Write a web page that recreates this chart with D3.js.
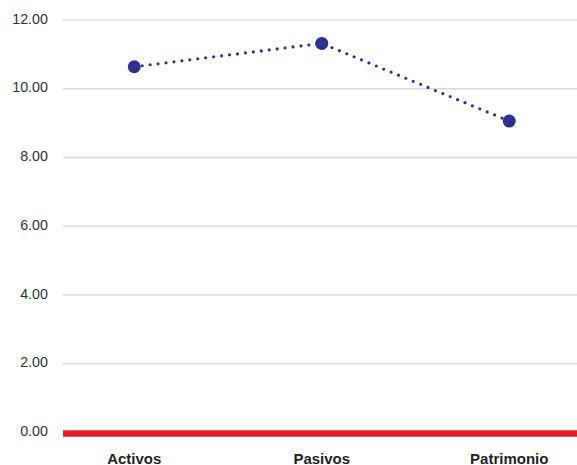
<!DOCTYPE html>
<html><head><meta charset="utf-8">
<script src="https://cdn.jsdelivr.net/npm/d3@7"></script>
<style>body{margin:0;background:#fff}svg{display:block}</style>
</head><body>
<svg id="c" width="577" height="465"></svg>
<script>
const categories = ["Activos", "Pasivos", "Patrimonio"];
const values = [10.64, 11.32, 9.06];
const yTicks = [0, 2, 4, 6, 8, 10, 12];

const svg = d3.select("#c");
const gridLeft = 63, gridRight = 577;
const x = d3.scaleBand().domain(categories).range([40.5, 603]);
const y = d3.scaleLinear().domain([0, 12]).range([432.5, 20]);

// gridlines
svg.append("g").selectAll("line").data(yTicks.filter(d => d > 0)).join("line")
  .attr("x1", gridLeft).attr("x2", gridRight)
  .attr("y1", d => y(d)).attr("y2", d => y(d))
  .attr("stroke", "#d9d9d9").attr("stroke-width", 1.5);

// y tick labels
svg.append("g").selectAll("text").data(yTicks).join("text")
  .attr("x", 48).attr("y", d => y(d) - 1.5).attr("dy", "0.35em")
  .attr("text-anchor", "end")
  .attr("font-family", "Liberation Sans, Arial, sans-serif").attr("font-size", 14.3)
  .attr("fill", "#333").text(d => d.toFixed(2));

// zero line
svg.append("line").attr("x1", gridLeft).attr("x2", gridRight)
  .attr("y1", y(0) + 1).attr("y2", y(0) + 1)
  .attr("stroke", "#e31e26").attr("stroke-width", 6.5);

// category labels
svg.append("g").selectAll("text").data(categories).join("text")
  .attr("x", d => x(d) + x.bandwidth() / 2).attr("y", 463.5)
  .attr("text-anchor", "middle")
  .attr("font-family", "Liberation Sans, Arial, sans-serif").attr("font-size", 15)
  .attr("font-weight", "bold").attr("fill", "#231f20").text(d => d);

const cx = d => x(d) + x.bandwidth() / 2;
const line = d3.line().x((d, i) => cx(categories[i])).y(d => y(d));
svg.append("path").datum(values).attr("d", line)
  .attr("fill", "none").attr("stroke", "#2e3192").attr("stroke-width", 3.2)
  .attr("stroke-linecap", "round").attr("stroke-dasharray", "0,8");

svg.append("g").selectAll("circle").data(values).join("circle")
  .attr("cx", (d, i) => cx(categories[i])).attr("cy", d => y(d))
  .attr("r", 6.5).attr("fill", "#2e3192");
</script>
</body></html>
